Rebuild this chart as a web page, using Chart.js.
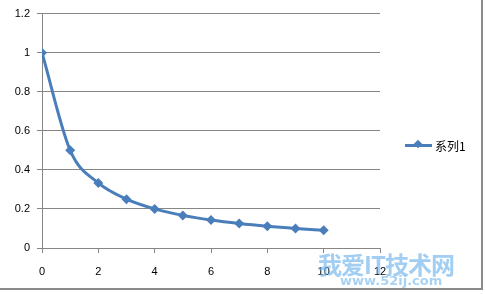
<!DOCTYPE html>
<html>
<head>
<meta charset="utf-8">
<script src="https://cdn.jsdelivr.net/npm/chart.js@4"></script>
<style>
  body { margin: 0; background: #fff; }
  #wrap { position: relative; width: 485px; height: 294px; }
  #frame { position: absolute; left: 0; top: 0; width: 481px; height: 288px;
           border-right: 2px solid #8a8a8a; border-bottom: 2px solid #8a8a8a; }
  #legend { position: absolute; left: 405px; top: 137px; font: 12px "Noto Sans CJK SC", sans-serif;
            color: #000; display: flex; align-items: center; }
  #legend .ln { position: relative; width: 27px; height: 3px; background: #4a7ebb; margin-right: 3px; }
  #legend .ln i { position: absolute; left: 10px; top: -3px; width: 6px; height: 6px; background: #4a7ebb;
                  transform: rotate(45deg); }
  .wm1 { position: absolute; left: 318px; top: 246px; font: bold 24px "Noto Sans CJK SC", sans-serif;
         color: rgba(110,180,235,0.65); letter-spacing: -1px; }
  .wm2 { position: absolute; left: 340px; top: 273px; font: bold 13px "DejaVu Sans", sans-serif;
         color: rgba(110,180,235,0.6); }
</style>
</head>
<body>
<div id="wrap">
  <canvas id="scatter-chart" width="485" height="294"></canvas>
  <div id="frame"></div>
  <div id="legend"><span class="ln"><i></i></span>系列1</div>
  <div class="wm1">我爱IT技术网</div>
  <div class="wm2">www.52ij.com</div>
</div>
<script>
/* Data */
var xValues = [0, 1, 2, 3, 4, 5, 6, 7, 8, 9, 10];
var yValues = [1, 0.5, 0.333, 0.25, 0.2, 0.167, 0.143, 0.125, 0.111, 0.1, 0.091];
var seriesName = "系列1";

var points = xValues.map(function (x, i) { return { x: x, y: yValues[i] }; });

new Chart(document.getElementById("scatter-chart"), {
  type: 'scatter',
  data: {
    datasets: [{
      label: seriesName,
      data: points,
      showLine: true,
      tension: 0.4,
      cubicInterpolationMode: 'monotone',
      borderColor: "#4a7ebb",
      backgroundColor: "#4a7ebb",
      borderWidth: 3,
      pointStyle: 'rectRot',
      pointRadius: 5,
      pointBorderWidth: 0
    }]
  },
  options: {
    responsive: false,
    animation: false,
    layout: { padding: { top: 12, right: 105, left: 0, bottom: 0 } },
    plugins: { legend: { display: false }, tooltip: { enabled: false } },
    scales: {
      x: {
        type: 'linear', min: 0, max: 12,
        ticks: { stepSize: 2, color: '#000', padding: 12, font: { family: 'Liberation Sans', size: 11 } },
        grid: { drawOnChartArea: false, color: '#868686', tickLength: 5 },
        border: { color: '#868686' },
        afterFit: function (s) { s.height = 46; }
      },
      y: {
        min: 0, max: 1.2,
        ticks: { stepSize: 0.2, color: '#000', padding: 7, font: { family: 'Liberation Sans', size: 11 },
                 callback: function (v) { return Math.round(v * 10) / 10; } },
        grid: { color: '#868686', tickLength: 5 },
        border: { color: '#868686' },
        afterFit: function (s) { s.width = 42; }
      }
    }
  }
});
</script>
</body>
</html>
